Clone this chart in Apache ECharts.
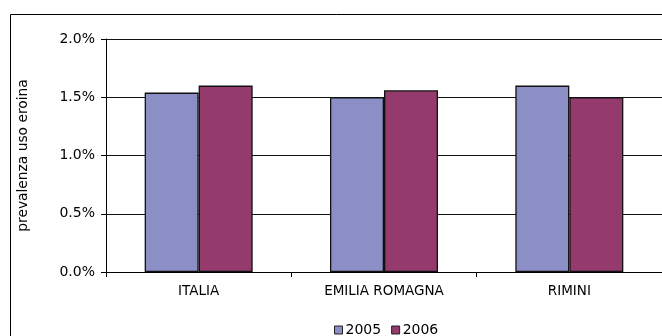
<!DOCTYPE html>
<html>
<head>
<meta charset="utf-8">
<script src="https://cdn.jsdelivr.net/npm/echarts@6/dist/echarts.min.js"></script>
<style>
  html, body { margin: 0; padding: 0; background: #fff; }
  #chart { width: 662px; height: 336px; }
</style>
</head>
<body>
<div id="chart"></div>
<script>
// Heroin use prevalence by area, 2005 vs 2006 (percent)
var categories = ['ITALIA', 'EMILIA ROMAGNA', 'RIMINI'];
var years = ['2005', '2006'];
var values2005 = [1.54, 1.50, 1.60];
var values2006 = [1.60, 1.56, 1.50];
var yTicks = [0, 0.5, 1.0, 1.5, 2.0];

var FONT = 'DejaVu Sans';
var chart = echarts.init(document.getElementById('chart'), null, { renderer: 'canvas' });

function barSeries(name, data, color) {
  return {
    name: name,
    type: 'bar',
    data: data,
    barWidth: 54,
    barGap: '0%',
    itemStyle: { color: color, borderColor: '#111', borderWidth: 1.3 },
    emphasis: { disabled: true }
  };
}

chart.setOption({
  animation: false,
  backgroundColor: '#ffffff',
  graphic: [{
    type: 'rect',
    shape: { x: 10.5, y: 14.5, width: 700, height: 400 },
    style: { fill: 'none', stroke: '#000', lineWidth: 1 },
    silent: true,
    z: -1
  }],
  grid: { left: 106, right: 0, top: 39, bottom: 64, containLabel: false },
  legend: {
    data: years,
    left: 329,
    top: 318,
    icon: 'rect',
    itemWidth: 8,
    itemHeight: 8,
    itemGap: 10,
    itemStyle: { borderColor: '#222', borderWidth: 1 },
    textStyle: { fontFamily: FONT, fontSize: 14, color: '#000', padding: [0, 0, 0, -2] }
  },
  xAxis: {
    type: 'category',
    data: categories,
    boundaryGap: true,
    axisLine: { lineStyle: { color: '#000', width: 1 } },
    axisTick: { show: true, length: 5, lineStyle: { color: '#000' } },
    axisLabel: { fontFamily: FONT, fontSize: 13.5, color: '#000', margin: 12 }
  },
  yAxis: {
    type: 'value',
    min: yTicks[0],
    max: yTicks[yTicks.length - 1],
    interval: yTicks[1] - yTicks[0],
    name: 'prevalenza uso eroina',
    nameLocation: 'middle',
    nameRotate: 90,
    nameGap: 76,
    nameTextStyle: { fontFamily: FONT, fontSize: 13.8, color: '#000' },
    axisLine: { show: true, lineStyle: { color: '#000', width: 1 } },
    axisTick: { show: true, length: 5, lineStyle: { color: '#000' } },
    axisLabel: {
      fontFamily: FONT, fontSize: 14, color: '#000', margin: 11,
      formatter: function (v) { return v.toFixed(1) + '%'; }
    },
    splitLine: { show: true, lineStyle: { color: '#111', width: 1 } }
  },
  series: [
    barSeries(years[0], values2005, '#8B8FC5'),
    barSeries(years[1], values2006, '#953A6C')
  ]
});
</script>
</body>
</html>
